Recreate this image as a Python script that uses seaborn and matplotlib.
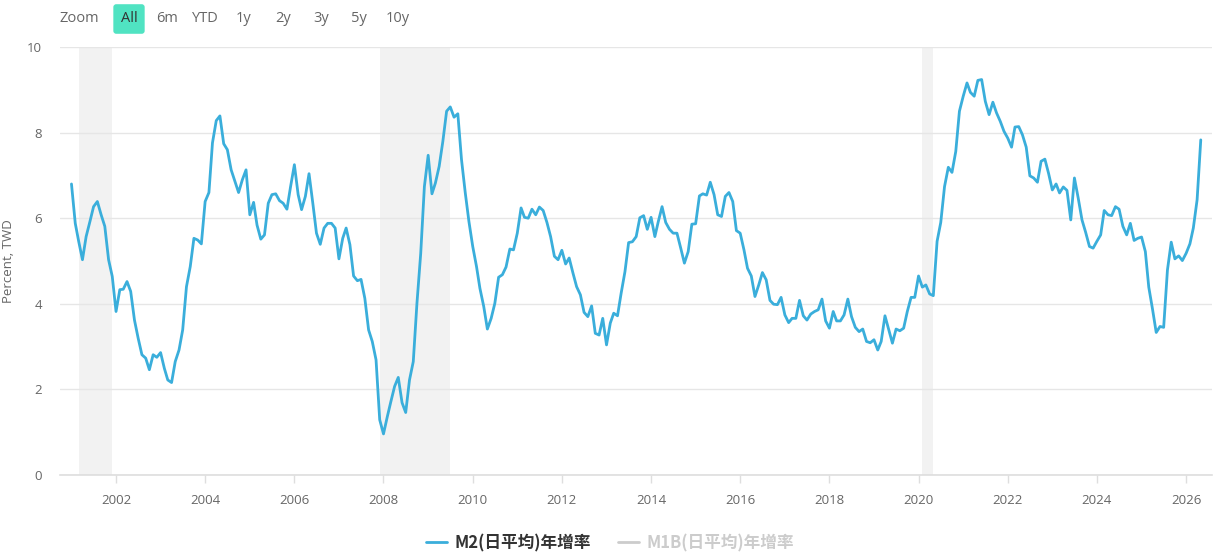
import seaborn as sns
import pandas as pd
import numpy as np
import matplotlib.pyplot as plt
import matplotlib.dates as mdates
from matplotlib.lines import Line2D

# M2 (daily average) yoy growth, monthly from 2001-01
m2_2001 = [6.80, 5.88, 5.46, 5.03, 5.57, 5.92, 6.27, 6.39, 6.08, 5.81, 5.03, 4.64]
m2_2002 = [3.82, 4.33, 4.34, 4.52, 4.29, 3.62, 3.20, 2.81, 2.73, 2.46, 2.81, 2.75]
m2_2003 = [2.86, 2.49, 2.22, 2.16, 2.65, 2.92, 3.39, 4.40, 4.87, 5.53, 5.49, 5.40]
m2_2004 = [6.39, 6.60, 7.76, 8.28, 8.39, 7.74, 7.60, 7.13, 6.86, 6.60, 6.90, 7.13]
m2_2005 = [6.08, 6.37, 5.84, 5.51, 5.61, 6.35, 6.55, 6.57, 6.41, 6.35, 6.21, 6.74]
m2_2006 = [7.25, 6.55, 6.20, 6.51, 7.04, 6.35, 5.65, 5.39, 5.77, 5.88, 5.88, 5.77]
m2_2007 = [5.05, 5.53, 5.77, 5.38, 4.65, 4.54, 4.57, 4.13, 3.39, 3.12, 2.69, 1.29]
m2_2008 = [0.96, 1.36, 1.71, 2.07, 2.28, 1.69, 1.46, 2.22, 2.65, 4.01, 5.18, 6.74]
m2_2009 = [7.47, 6.57, 6.82, 7.21, 7.79, 8.50, 8.60, 8.36, 8.44, 7.37, 6.59, 5.92]
m2_2010 = [5.34, 4.87, 4.36, 3.94, 3.41, 3.66, 4.01, 4.62, 4.68, 4.86, 5.28, 5.26]
m2_2011 = [5.65, 6.24, 6.02, 6.00, 6.21, 6.08, 6.26, 6.18, 5.90, 5.57, 5.11, 5.03]
m2_2012 = [5.25, 4.93, 5.07, 4.72, 4.40, 4.21, 3.80, 3.70, 3.95, 3.31, 3.27, 3.66]
m2_2013 = [3.04, 3.55, 3.78, 3.72, 4.25, 4.75, 5.43, 5.45, 5.57, 6.01, 6.06, 5.74]
m2_2014 = [6.02, 5.57, 5.92, 6.27, 5.90, 5.74, 5.65, 5.65, 5.30, 4.95, 5.22, 5.86]
m2_2015 = [5.87, 6.52, 6.57, 6.54, 6.84, 6.55, 6.08, 6.04, 6.51, 6.60, 6.39, 5.71]
m2_2016 = [5.65, 5.26, 4.83, 4.65, 4.17, 4.44, 4.73, 4.56, 4.08, 3.99, 3.98, 4.15]
m2_2017 = [3.74, 3.56, 3.66, 3.66, 4.08, 3.72, 3.62, 3.76, 3.82, 3.86, 4.11, 3.60]
m2_2018 = [3.43, 3.82, 3.60, 3.60, 3.74, 4.11, 3.70, 3.45, 3.35, 3.41, 3.12, 3.09]
m2_2019 = [3.16, 2.92, 3.12, 3.72, 3.41, 3.08, 3.41, 3.37, 3.43, 3.82, 4.15, 4.15]
m2_2020 = [4.65, 4.39, 4.44, 4.23, 4.19, 5.46, 5.90, 6.74, 7.19, 7.07, 7.56, 8.50]
m2_2021 = [8.85, 9.16, 8.94, 8.85, 9.22, 9.24, 8.73, 8.42, 8.71, 8.46, 8.26, 8.03]
m2_2022 = [7.87, 7.66, 8.13, 8.14, 7.95, 7.66, 6.99, 6.94, 6.84, 7.33, 7.38, 7.05]
m2_2023 = [6.66, 6.80, 6.59, 6.73, 6.65, 5.96, 6.94, 6.47, 5.96, 5.67, 5.34, 5.30]
m2_2024 = [5.46, 5.61, 6.18, 6.08, 6.06, 6.27, 6.21, 5.81, 5.61, 5.88, 5.48, 5.53]
m2_2025 = [5.56, 5.22, 4.39, 3.87, 3.33, 3.47, 3.45, 4.79, 5.44, 5.05, 5.12, 5.01]
m2_2026 = [5.18, 5.40, 5.77, 6.43, 7.83]

m2 = (m2_2001 + m2_2002 + m2_2003 + m2_2004 + m2_2005 + m2_2006 + m2_2007
      + m2_2008 + m2_2009 + m2_2010 + m2_2011 + m2_2012 + m2_2013 + m2_2014
      + m2_2015 + m2_2016 + m2_2017 + m2_2018 + m2_2019 + m2_2020 + m2_2021
      + m2_2022 + m2_2023 + m2_2024 + m2_2025 + m2_2026)
months = pd.date_range("2001-01-01", periods=len(m2), freq="MS")

# recession bands
band_start = ["2001-03-01", "2007-12-01", "2020-02-01"]
band_end = ["2001-12-01", "2009-07-01", "2020-05-01"]

zoom_buttons = ["6m", "YTD", "1y", "2y", "3y", "5y", "10y"]

df = pd.DataFrame({"date": months, "M2": m2})

sns.set_theme(style="white")
plt.rcParams['font.family'] = ['Open Sans', 'Noto Sans CJK TC', 'DejaVu Sans']

fig = plt.figure(figsize=(12.2, 5.58), dpi=100)
ax = fig.add_axes([60 / 1220, 1 - 475 / 558, 1152 / 1220, 428 / 558])

for s, e in zip(band_start, band_end):
    ax.axvspan(pd.Timestamp(s), pd.Timestamp(e), color="#f2f2f2", lw=0, zorder=0)

sns.lineplot(data=df, x="date", y="M2", ax=ax, color="#3aaedb", lw=2, zorder=3)

ax.set_xlim(pd.Timestamp("2000-09-29"), pd.Timestamp("2026-08-01"))
ax.set_ylim(0, 10)
ax.set_yticks([0, 2, 4, 6, 8, 10])
ax.grid(axis="y", color="#e6e6e6", lw=1)
ax.grid(axis="x", visible=False)
ax.xaxis.set_major_locator(mdates.YearLocator(2))
ax.xaxis.set_major_formatter(mdates.DateFormatter("%Y"))
for side in ["top", "right", "left"]:
    ax.spines[side].set_visible(False)
ax.spines["bottom"].set_color("#dedede")
ax.spines["bottom"].set_linewidth(1.2)
ax.tick_params(axis="x", colors="#dedede", length=6, width=1, labelcolor="#666666",
               labelsize=9.5, pad=8, bottom=True)
ax.tick_params(axis="y", length=0, labelcolor="#666666", labelsize=9.5, pad=13)
ax.set_xlabel("")
ax.set_ylabel("Percent, TWD", color="#666666", fontsize=9.5, va="center")
ax.yaxis.set_label_coords(-0.045, 0.5)

# range selector at top
fig.text(60 / 1220, 1 - 19 / 558, "Zoom", fontsize=10.5, color="#666666", va="center")
fig.text(129 / 1220, 1 - 19 / 558, "All", fontsize=10.5, color="#333333", va="center",
         ha="center", bbox=dict(boxstyle="round,pad=0.5,rounding_size=0.2",
                                fc="#50e3c2", ec="none"))
btn_x = [167, 205, 244, 283, 321, 359, 398]
for bx, lab in zip(btn_x, zoom_buttons):
    fig.text(bx / 1220, 1 - 19 / 558, lab, fontsize=10.5, color="#666666",
             va="center", ha="center")

handles = [Line2D([], [], color="#3aaedb", lw=2),
           Line2D([], [], color="#cccccc", lw=2)]
leg = fig.legend(handles, ["M2(日平均)年增率", "M1B(日平均)年增率"],
                 loc="center", bbox_to_anchor=(0.5, 1 - 543 / 558), ncol=2,
                 frameon=False, handlelength=1.3, handletextpad=0.45, columnspacing=1.6,
                 prop={"family": ["Noto Sans CJK TC", "DejaVu Sans"], "weight": "bold",
                       "size": 12})
leg.get_texts()[0].set_color("#333333")
leg.get_texts()[1].set_color("#cccccc")

fig.savefig("out.png", dpi=100)
